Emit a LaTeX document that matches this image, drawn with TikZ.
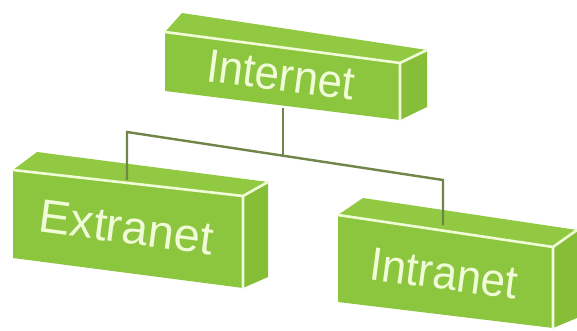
\documentclass[tikz,border=0pt]{standalone}
\usepackage{fontspec}
\setmainfont{Liberation Sans}
\definecolor{frontg}{RGB}{140,197,62}
\definecolor{topg}{RGB}{146,201,66}
\definecolor{sideg}{RGB}{134,190,56}
\definecolor{edgew}{RGB}{240,252,215}
\definecolor{linkc}{RGB}{112,134,72}
\begin{document}
\begin{tikzpicture}[x=1pt,y=-1pt,
  frontface/.style={fill=frontg},
  topface/.style={fill=topg},
  sideface/.style={fill=sideg},
  whiteedge/.style={draw=edgew,line width=2.6pt,line cap=round,line join=round},
  link/.style={draw=linkc,line width=2.4pt},
  lbl/.style={inner sep=0pt,text=edgew,font=\fontsize{47}{47}\selectfont,rotate=-7.5}]
\useasboundingbox[fill=white] (0,0) rectangle (577,331);

% connector end points
\coordinate (inetbot) at (283,108);
\coordinate (junction) at (283,155.7);
\coordinate (leftcorner) at (127,132);
\coordinate (extratop) at (127,180);
\coordinate (rightcorner) at (443,180);
\coordinate (intratop) at (443,225);

% Extranet box
\fill[topface] (13,170) -- (37,152) -- (268,182) -- (243,196) -- cycle;
\fill[sideface] (243,196) -- (268,182) -- (268,277) -- (243,288) -- cycle;
\fill[frontface] (13,170) -- (243,196) -- (243,288) -- (13,258) -- cycle;
\draw[whiteedge] (13,170) -- (243,196) -- (243,288);
\draw[whiteedge] (243,196) -- (268,182);

% Intranet box
\fill[topface] (338,215) -- (363,198) -- (577,230) -- (553,247) -- cycle;
\fill[sideface] (553,247) -- (577,230) -- (577,318) -- (553,328) -- cycle;
\fill[frontface] (338,215) -- (553,247) -- (553,328) -- (338,302) -- cycle;
\draw[whiteedge] (338,215) -- (553,247) -- (553,328);
\draw[whiteedge] (553,247) -- (577,230);

% connectors
\draw[link] (inetbot) -- (junction);
\draw[link] (extratop) -- (leftcorner) -- (rightcorner) -- (intratop);

% Internet box
\fill[topface] (165,32) -- (182,13) -- (427,50) -- (400,63) -- cycle;
\fill[sideface] (400,63) -- (427,50) -- (427,107) -- (400,120) -- cycle;
\fill[frontface] (165,32) -- (400,63) -- (400,120) -- (165,91) -- cycle;
\draw[whiteedge] (165,32) -- (400,63) -- (400,120);
\draw[whiteedge] (400,63) -- (427,50);

% labels
\node[lbl,xscale=0.93] (internet) at (281,75) {Internet};
\node[lbl] (extranet) at (126.5,227.5) {Extranet};
\node[lbl,xscale=0.93] (intranet) at (444,273.5) {Intranet};
\end{tikzpicture}
\end{document}
